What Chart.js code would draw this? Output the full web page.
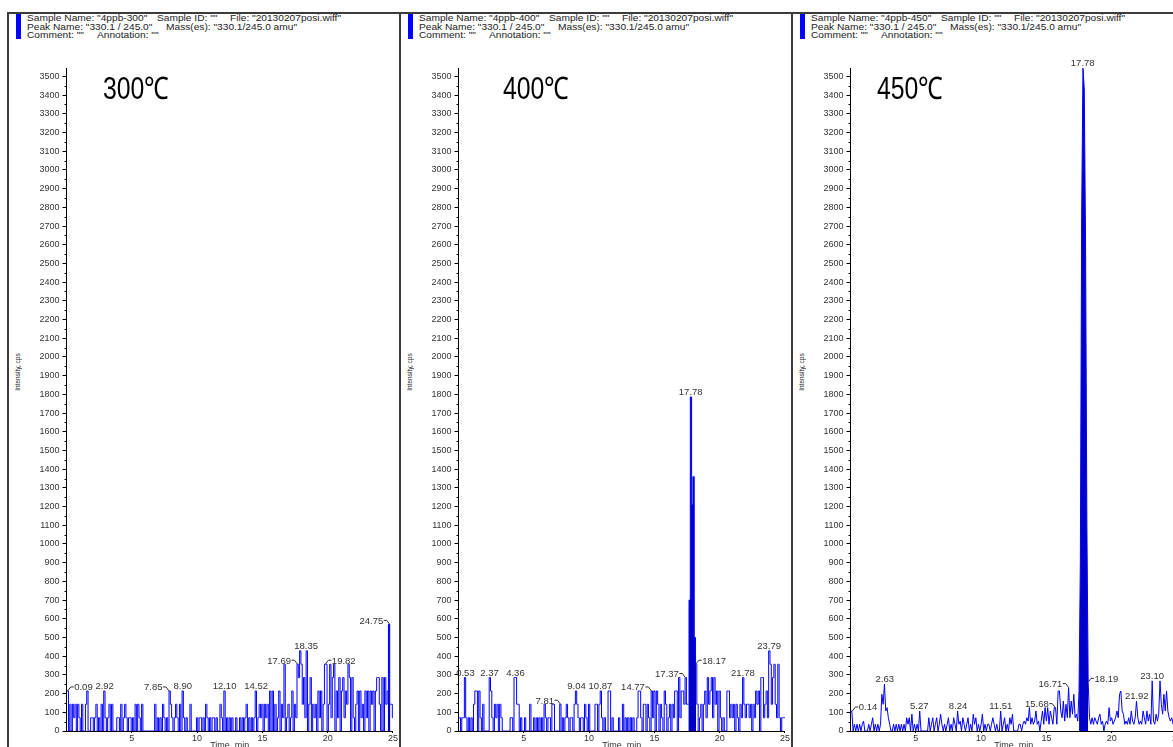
<!DOCTYPE html>
<html><head><meta charset="utf-8">
<script src="https://cdn.jsdelivr.net/npm/chart.js@4"></script>
<style>
html,body{margin:0;padding:0;background:#fff;width:1173px;height:747px;overflow:hidden;position:relative;font-family:"Liberation Sans",Arial,sans-serif;}
.frame{position:absolute;top:12px;width:390px;height:800px;border:2px solid #3c3c3c;border-bottom:none;}
.blue{position:absolute;top:14px;width:5px;height:25px;background:#0000ff;}
.hdr{position:absolute;font-size:9px;line-height:9px;color:#222;white-space:pre;transform:scaleX(1.13);transform-origin:0 0;}
.temp{position:absolute;top:73px;font-size:31px;line-height:31px;color:#000;transform:scaleX(0.8);transform-origin:0 0;white-space:pre;}
.ytitle{position:absolute;font-size:6.5px;line-height:7px;color:#222;white-space:pre;transform:translate(-50%,-50%) rotate(-90deg);}
canvas{position:absolute;top:13px;}
</style></head>
<body>
<div id="root"></div>
<script>
// ---------------- data ----------------
const times = [
0,0.1,0.2,0.3,0.4,0.5,0.6,0.7,0.8,0.9,
1,1.1,1.2,1.3,1.4,1.5,1.6,1.7,1.8,1.9,
2,2.1,2.2,2.3,2.4,2.5,2.6,2.7,2.8,2.9,
3,3.1,3.2,3.3,3.4,3.5,3.6,3.7,3.8,3.9,
4,4.1,4.2,4.3,4.4,4.5,4.6,4.7,4.8,4.9,
5,5.1,5.2,5.3,5.4,5.5,5.6,5.7,5.8,5.9,
6,6.1,6.2,6.3,6.4,6.5,6.6,6.7,6.8,6.9,
7,7.1,7.2,7.3,7.4,7.5,7.6,7.7,7.8,7.9,
8,8.1,8.2,8.3,8.4,8.5,8.6,8.7,8.8,8.9,
9,9.1,9.2,9.3,9.4,9.5,9.6,9.7,9.8,9.9,
10,10.1,10.2,10.3,10.4,10.5,10.6,10.7,10.8,10.9,
11,11.1,11.2,11.3,11.4,11.5,11.6,11.7,11.8,11.9,
12,12.1,12.2,12.3,12.4,12.5,12.6,12.7,12.8,12.9,
13,13.1,13.2,13.3,13.4,13.5,13.6,13.7,13.8,13.9,
14,14.1,14.2,14.3,14.4,14.5,14.6,14.7,14.8,14.9,
15,15.1,15.2,15.3,15.4,15.5,15.6,15.7,15.8,15.9,
16,16.1,16.2,16.3,16.4,16.5,16.6,16.7,16.8,16.9,
17,17.1,17.2,17.3,17.4,17.5,17.6,17.7,17.8,17.9,
18,18.1,18.2,18.3,18.4,18.5,18.6,18.7,18.8,18.9,
19,19.1,19.2,19.3,19.4,19.5,19.6,19.7,19.8,19.9,
20,20.1,20.2,20.3,20.4,20.5,20.6,20.7,20.8,20.9,
21,21.1,21.2,21.3,21.4,21.5,21.6,21.7,21.8,21.9,
22,22.1,22.2,22.3,22.4,22.5,22.6,22.7,22.8,22.9,
23,23.1,23.2,23.3,23.4,23.5,23.6,23.7,23.8,23.9,
24,24.1,24.2,24.3,24.4,24.5,24.6,24.7,24.8,24.9,
25];

const p300 = [
214,214,0,143,0,143,71,143,0,143,
71,0,143,0,0,143,214,0,0,71,
71,0,71,143,0,71,0,143,0,214,
71,0,71,143,0,143,0,0,0,71,
71,0,143,0,71,143,71,0,71,71,
0,71,0,143,0,143,71,0,143,0,
0,0,0,0,0,0,0,0,143,0,
71,0,71,0,143,71,0,71,0,214,
143,71,0,71,143,71,0,143,0,214,
71,0,71,0,0,143,0,0,0,0,
71,0,71,71,0,71,0,143,71,0,
71,0,71,71,0,71,0,0,143,71,
0,214,0,71,0,71,0,71,0,0,
71,0,0,71,0,71,0,71,143,0,
71,0,71,0,71,214,0,71,143,71,
143,0,143,71,143,0,214,0,214,0,
143,0,71,214,0,143,71,357,0,71,
143,0,71,214,0,143,71,357,286,429,
357,143,286,71,429,0,143,286,0,143,
71,143,0,214,71,214,0,143,357,357,
0,143,357,71,286,357,0,214,71,286,
0,214,286,71,214,143,357,286,0,286,
71,0,143,214,0,214,71,143,0,214,
71,214,0,214,143,214,0,214,286,286,
143,0,286,0,286,143,214,570,143,143,
71];

const p400 = [
71,71,0,71,71,286,71,0,71,0,
71,0,143,214,214,0,214,71,0,143,
0,0,0,0,286,214,71,0,143,71,
143,0,143,71,0,0,0,0,0,0,
71,71,0,286,286,143,143,0,71,0,
0,71,0,0,0,143,0,0,71,0,
71,0,71,0,71,0,143,71,0,71,
71,0,143,143,0,0,0,0,143,0,
71,0,71,143,71,0,71,71,0,143,
214,143,71,0,71,71,0,143,71,0,
143,0,0,0,0,143,143,0,143,214,
71,0,71,0,0,214,214,0,71,0,
0,0,0,71,0,0,143,0,71,0,
71,0,71,0,71,0,0,71,214,214,
71,0,143,143,0,143,71,0,214,71,
214,0,214,143,0,143,71,0,214,143,
0,71,143,0,143,71,214,214,0,286,
71,214,214,143,286,143,143,700,1786,1210,
1360,500,357,143,0,71,143,0,143,214,
71,286,143,214,286,71,286,143,214,0,
214,71,0,71,0,0,214,214,71,143,
71,143,0,143,71,0,143,71,286,143,
71,143,143,71,143,0,143,71,214,143,
214,0,286,286,71,143,214,71,429,357,
143,286,357,143,71,357,71,0,71,71,
71];

const p450 = [
107,107,0,36,0,36,0,36,0,36,
53,0,0,0,36,0,36,71,0,36,
0,36,0,36,196,143,250,107,125,71,
36,0,0,36,0,36,0,36,0,36,
0,36,0,71,36,71,0,90,0,36,
0,36,0,107,0,0,0,0,0,0,
71,0,36,71,0,36,71,0,36,90,
36,0,36,0,36,71,0,36,0,71,
36,0,107,36,53,0,71,36,0,36,
71,0,36,0,90,36,71,0,36,0,
36,90,0,36,0,36,36,0,36,71,
36,0,36,0,0,107,0,36,71,0,
36,0,71,36,90,0,0,0,0,36,
36,0,36,53,36,71,53,125,36,71,
36,53,107,36,53,0,53,107,36,125,
53,125,36,107,71,36,125,125,36,214,
214,107,71,160,53,143,71,232,71,160,
90,196,71,90,53,214,900,2750,3544,3432,
2600,1100,260,71,36,71,36,71,53,36,
71,90,36,53,0,36,53,36,125,53,
71,36,53,71,107,71,196,214,107,90,
36,53,36,71,36,107,53,36,71,160,
71,36,53,36,107,71,36,107,53,90,
36,268,53,36,90,53,90,268,143,90,
196,107,214,107,71,53,71,36,53,36,
53];

// labelled peaks: retention time and intensity
const p300LabelTimes  = [0.09, 2.92, 7.85, 8.90, 12.10, 14.52, 17.69, 18.35, 19.82, 24.75];
const p300LabelValues = [214, 214, 214, 214, 214, 214, 357, 429, 357, 570];
const p400LabelTimes  = [0.53, 2.37, 4.36, 7.81, 9.04, 10.87, 14.77, 17.37, 17.78, 18.17, 21.78, 23.79];
const p400LabelValues = [286, 286, 286, 143, 214, 214, 214, 286, 1786, 357, 286, 429];
const p450LabelTimes  = [0.14, 2.63, 5.27, 8.24, 11.51, 15.68, 16.71, 17.78, 18.19, 21.92, 23.10];
const p450LabelValues = [107, 250, 107, 107, 107, 125, 232, 3544, 260, 160, 268];

const xTickValues = [5, 10, 15, 20, 25];
const yTickValues = [0,100,200,300,400,500,600,700,800,900,1000,1100,1200,1300,1400,1500,1600,1700,1800,1900,2000,2100,2200,2300,2400,2500,2600,2700,2800,2900,3000,3100,3200,3300,3400,3500];
const yMax = 3545;

const sampleNames = ['4ppb-300', '4ppb-400', '4ppb-450'];
const tempTitles = ['300℃', '400℃', '450℃'];

// ---------------- layout / style (not data) ----------------
const labelSides = [
  ['r','c','l','c','c','c','l','c','r','l'],
  ['c','c','c','l','c','c','l','l','c','r','c','c'],
  ['r','c','c','c','c','l','l','c','r','c','c']
];
const tempX = [103, 503, 877];
const PANEL_DX = 392;

const panels = [
  {values: p300, lt: p300LabelTimes, lv: p300LabelValues, stepped: 'middle'},
  {values: p400, lt: p400LabelTimes, lv: p400LabelValues, stepped: 'middle'},
  {values: p450, lt: p450LabelTimes, lv: p450LabelValues, stepped: false}
];

const root = document.getElementById('root');
function addEl(cls, left, top, text) {
  const d = document.createElement('div');
  d.className = cls;
  d.style.left = left + 'px';
  if (top !== null) d.style.top = top + 'px';
  if (text !== null) d.textContent = text;
  root.appendChild(d);
  return d;
}

const FONT = '"Liberation Sans", Arial, sans-serif';

function labelPlugin(p, sides) {
  return {
    id: 'peakLabels',
    afterDatasetsDraw(chart) {
      const ctx = chart.ctx, xs = chart.scales.x, ys = chart.scales.y;
      ctx.save();
      // minor ticks on the y axis, half-way between labelled ticks
      ctx.strokeStyle = '#000';
      ctx.lineWidth = 1;
      for (let k = 0; k < yTickValues.length - 1; k++) {
        const yy = Math.round(ys.getPixelForValue((yTickValues[k] + yTickValues[k + 1]) / 2)) + 0.5;
        ctx.beginPath(); ctx.moveTo(chart.chartArea.left - 2, yy); ctx.lineTo(chart.chartArea.left, yy); ctx.stroke();
      }
      ctx.font = '9.5px ' + FONT;
      ctx.fillStyle = '#333';
      ctx.strokeStyle = '#333';
      ctx.textBaseline = 'alphabetic';
      p.lt.forEach((t, i) => {
        const x = xs.getPixelForValue(t), y = ys.getPixelForValue(p.lv[i]);
        const txt = t.toFixed(2), s = sides[i];
        if (s === 'c') {
          ctx.textAlign = 'center';
          ctx.fillText(txt, x, y - 2);
        } else if (s === 'l') {
          ctx.beginPath(); ctx.moveTo(x - 6, y - 4); ctx.lineTo(x - 3, y - 4); ctx.lineTo(x, y); ctx.stroke();
          ctx.textAlign = 'right';
          ctx.fillText(txt, x - 6.5, y - 0.5);
        } else {
          ctx.beginPath(); ctx.moveTo(x, y); ctx.lineTo(x + 3, y - 4); ctx.lineTo(x + 6, y - 4); ctx.stroke();
          ctx.textAlign = 'left';
          ctx.fillText(txt, x + 6.5, y - 0.5);
        }
      });
      ctx.restore();
    }
  };
}

panels.forEach((p, i) => {
  const ox = PANEL_DX * i;
  addEl('frame', 7 + ox, null, null);
  addEl('blue', 16 + ox, null, null);
  addEl('hdr', 27 + ox, 13.5, 'Sample Name: "' + sampleNames[i] + '"');
  addEl('hdr', 157 + ox, 13.5, 'Sample ID: ""');
  addEl('hdr', 230 + ox, 13.5, 'File: "20130207posi.wiff"');
  addEl('hdr', 27 + ox, 22.5, 'Peak Name: "330.1 / 245.0"');
  addEl('hdr', 166 + ox, 22.5, 'Mass(es): "330.1/245.0 amu"');
  addEl('hdr', 27 + ox, 30.5, 'Comment: ""');
  addEl('hdr', 97 + ox, 30.5, 'Annotation: ""');
  addEl('ytitle', 17 + ox, 372, 'Intensity, cps');

  const cv = document.createElement('canvas');
  cv.width = 390; cv.height = 760;
  cv.style.left = (8 + ox) + 'px';
  cv.style.width = '390px'; cv.style.height = '760px';
  root.appendChild(cv);
  addEl('temp', tempX[i], 73, tempTitles[i]);

  const pts = times.map((t, k) => ({x: t, y: p.values[k]}));
  new Chart(cv.getContext('2d'), {
    type: 'line',
    data: {datasets: [{
      data: pts,
      borderColor: '#0000ff',
      borderWidth: 1,
      pointRadius: 0,
      tension: 0,
      stepped: p.stepped,
      fill: 'origin',
      backgroundColor: 'rgba(0,0,0,0)',
      segment: {
        backgroundColor: c => (c.p0.parsed.y > 450 || c.p1.parsed.y > 450) ? '#0000c8' : 'rgba(0,0,0,0)'
      }
    }]},
    options: {
      responsive: false,
      animation: false,
      devicePixelRatio: 1,
      layout: {padding: {left: 0, right: 5, top: 55, bottom: 22}},
      plugins: {legend: {display: false}, tooltip: {enabled: false}, title: {display: false}},
      scales: {
        x: {
          type: 'linear', min: 0, max: 25,
          afterBuildTicks: s => { s.ticks = xTickValues.map(v => ({value: v})); },
          afterFit: s => { s.height = 20; },
          grid: {display: true, drawOnChartArea: false, drawTicks: true, tickLength: 2, color: '#000'},
          border: {display: true, color: '#000', width: 1},
          ticks: {font: {family: FONT, size: 9}, color: '#333', padding: 0, maxRotation: 0, autoSkip: false,
                  callback: v => String(v)},
          title: {display: true, text: 'Time, min', font: {family: FONT, size: 9}, color: '#333', padding: {top: 0, bottom: 0}}
        },
        y: {
          type: 'linear', min: 0, max: yMax,
          afterBuildTicks: s => { s.ticks = yTickValues.map(v => ({value: v})); },
          afterFit: s => { s.width = 58.5; },
          grid: {display: true, drawOnChartArea: false, drawTicks: true, tickLength: 4, color: '#000'},
          border: {display: true, color: '#000', width: 1},
          ticks: {font: {family: FONT, size: 9}, color: '#333', padding: 3, autoSkip: false,
                  callback: v => String(v)}
        }
      }
    },
    plugins: [labelPlugin(p, labelSides[i])]
  });
});
</script>
</body></html>
